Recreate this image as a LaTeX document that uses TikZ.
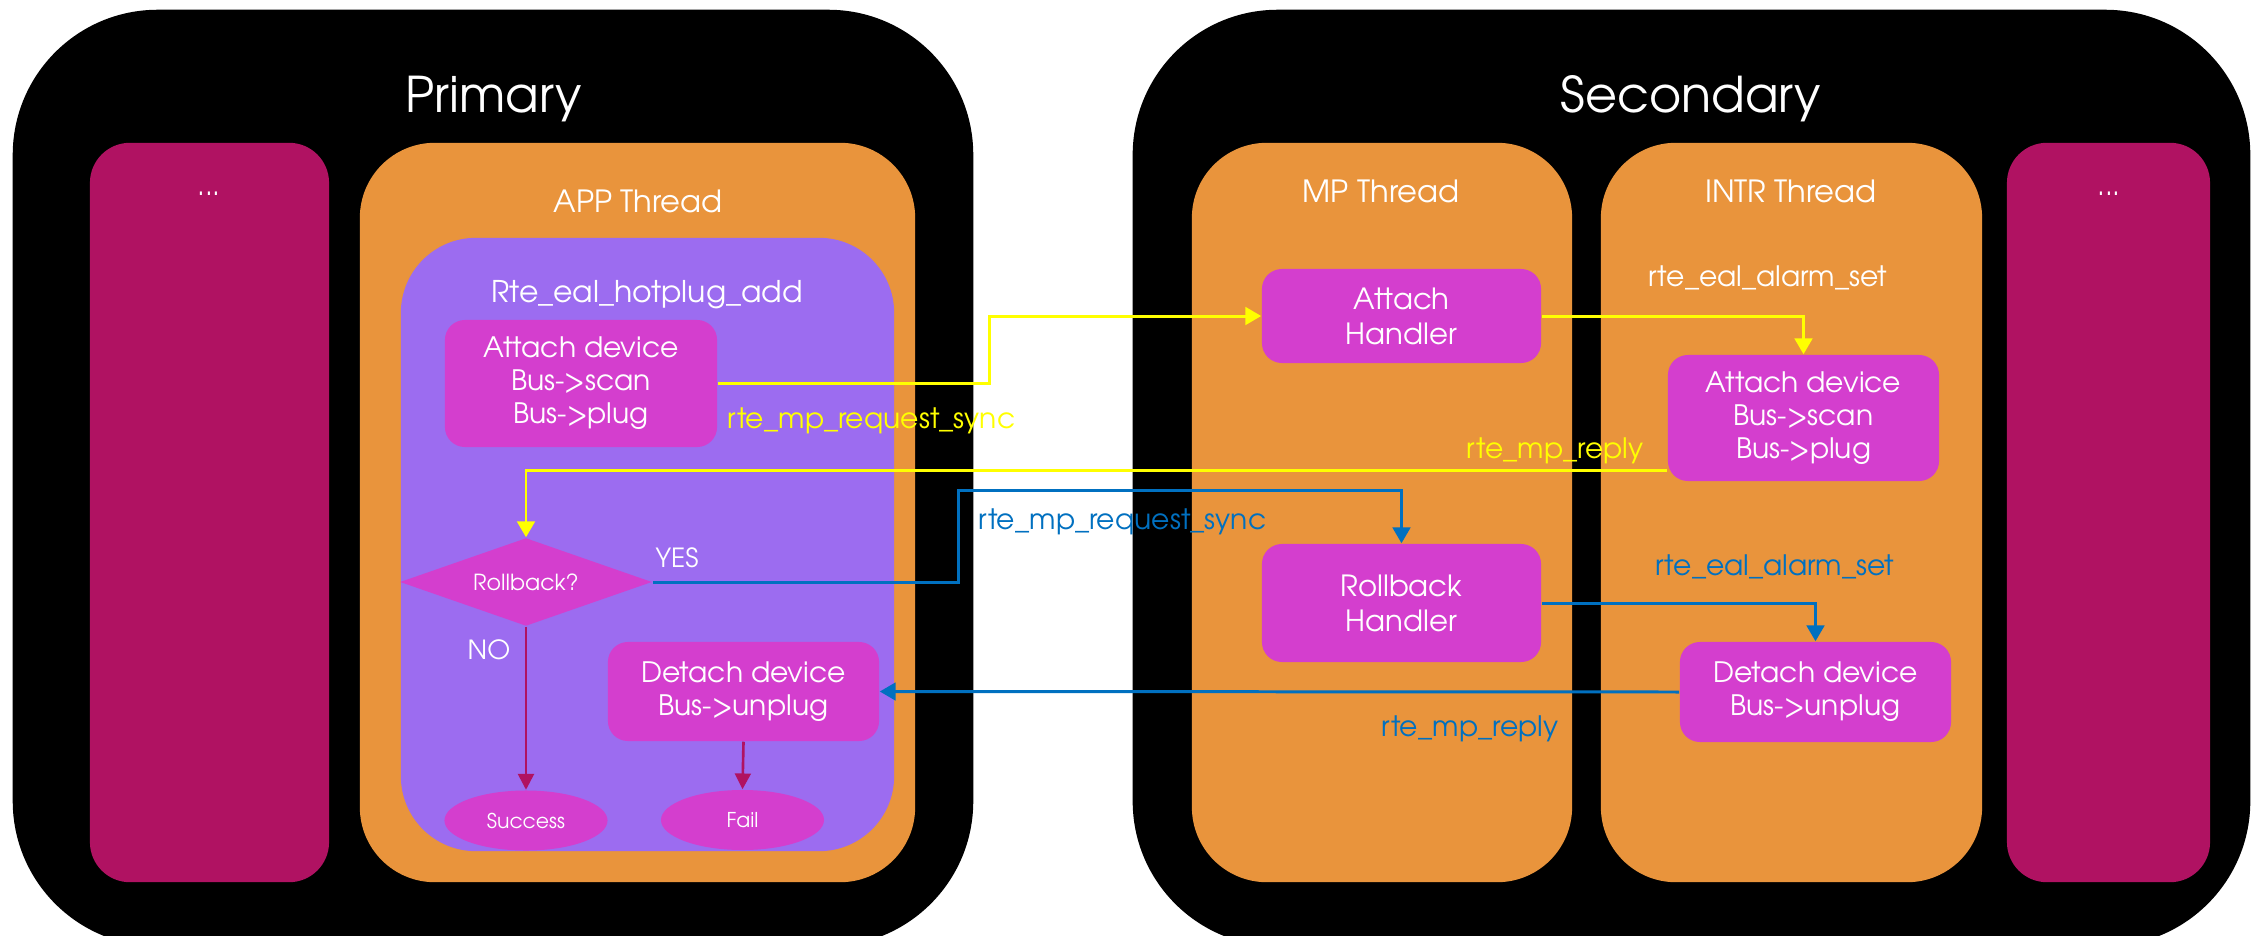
\documentclass[tikz,border=0pt]{standalone}
\usepackage{fontspec}
\setmainfont{texgyreadventor-regular.otf}
\usetikzlibrary{shapes.geometric,arrows.meta}
\definecolor{dmag}{HTML}{B01262}
\definecolor{orng}{HTML}{E9943C}
\definecolor{purp}{HTML}{9C6CF0}
\definecolor{bmag}{HTML}{D43ECE}
\definecolor{yel}{HTML}{FFFF00}
\definecolor{blu}{HTML}{0070C0}
\tikzset{
  outerbox/.style={fill=black, draw=none, rounded corners=1.45cm, inner sep=0},
  colbox/.style={fill=dmag, rounded corners=0.4cm, inner sep=0},
  threadbox/.style={fill=orng, rounded corners=0.75cm, inner sep=0},
  funcbox/.style={fill=purp, rounded corners=0.75cm, inner sep=0},
  stepbox/.style={fill=bmag, rounded corners=0.2cm, inner sep=0, text=white, align=center, font=\fontsize{8}{9.4}\selectfont},
  handlerbox/.style={stepbox, font=\fontsize{8.3}{10}\selectfont},
  bigtitle/.style={text=white, anchor=base, inner sep=0, font=\fontsize{14}{16}\selectfont},
  thtitle/.style={text=white, anchor=base, inner sep=0, font=\fontsize{8.7}{10}\selectfont},
  dots/.style={text=white, anchor=base, inner sep=0, font=\fontsize{8}{10}\selectfont},
  wlab/.style={text=white, inner sep=0, font=\fontsize{8}{10}\selectfont},
  ylab/.style={text=yel, inner sep=0, font=\fontsize{8}{10}\selectfont},
  blab/.style={text=blu, inner sep=0, font=\fontsize{8}{10}\selectfont},
  yarr/.style={draw=yel, line width=0.85pt, -{Triangle[length=4.5pt,width=5pt]}},
  barr/.style={draw=blu, line width=0.85pt, -{Triangle[length=4.5pt,width=5pt]}},
  marr/.style={draw=dmag, line width=0.75pt, -{Triangle[length=4.5pt,width=4.5pt]}},
}
\begin{document}
\begin{tikzpicture}[x=0.01cm,y=-0.01cm]
\useasboundingbox[fill=white] (0,0) rectangle (2259,936);
% outer process boxes
\node[outerbox, minimum width=9.60cm, minimum height=9.36cm] (prim) at (493,478) {};
\node[outerbox, minimum width=11.17cm, minimum height=9.36cm] (sec) at (1691.5,478) {};
\node[bigtitle] (primt) at (494,112) {Primary};
\node[bigtitle] (sect) at (1691,112) {Secondary};
% columns
\node[colbox, minimum width=2.39cm, minimum height=7.39cm] (pdots) at (209.5,512.5) {};
\node[dots] (pdotst) at (209,195) {...};
\node[threadbox, minimum width=5.55cm, minimum height=7.39cm] (app) at (637.5,512.5) {};
\node[thtitle] (appt) at (638,212) {APP Thread};
\node[funcbox, minimum width=4.93cm, minimum height=6.13cm] (func) at (647.5,544.5) {};
\node[thtitle, font=\fontsize{8.5}{10}\selectfont] (funct) at (647,302) {Rte\_eal\_hotplug\_add};
\node[threadbox, minimum width=3.80cm, minimum height=7.39cm] (mpth) at (1382,512.5) {};
\node[thtitle] (mptht) at (1381,202) {MP Thread};
\node[threadbox, minimum width=3.81cm, minimum height=7.39cm] (intr) at (1791.5,512.5) {};
\node[thtitle] (intrt) at (1791,202) {INTR Thread};
\node[colbox, minimum width=2.03cm, minimum height=7.39cm] (sdots) at (2108.5,512.5) {};
\node[dots] (sdotst) at (2109,195) {...};
% primary flow
\node[stepbox, minimum width=2.72cm, minimum height=1.27cm] (pattach) at (581,383.5) {Attach device\\Bus->scan\\Bus->plug};
\node[shape=diamond, fill=bmag, inner sep=0, shape aspect=2.86, minimum width=2.52cm, minimum height=0.88cm, text=white, font=\fontsize{6.3}{7}\selectfont] (rb) at (526,582) {Rollback?};
\node[stepbox, minimum width=2.71cm, minimum height=0.99cm] (pdetach) at (743.5,691.5) {Detach device\\Bus->unplug};
\node[shape=ellipse, fill=bmag, inner sep=0, minimum width=1.63cm, minimum height=0.60cm, text=white, font=\fontsize{5.8}{7}\selectfont] (succ) at (526,820.5) {Success};
\node[shape=ellipse, fill=bmag, inner sep=0, minimum width=1.63cm, minimum height=0.60cm, text=white, font=\fontsize{5.8}{7}\selectfont] (fail) at (742.5,820) {Fail};
\node[wlab, anchor=base, font=\fontsize{7.5}{9}\selectfont] (yes) at (677,567) {YES};
\node[wlab, anchor=base, font=\fontsize{7.5}{9}\selectfont] (no) at (489,659) {NO};
% secondary flow
\node[handlerbox, minimum width=2.79cm, minimum height=0.94cm] (ahandler) at (1401.5,316) {Attach\\Handler};
\node[stepbox, minimum width=2.71cm, minimum height=1.26cm] (iattach) at (1803.5,418) {Attach device\\Bus->scan\\Bus->plug};
\node[handlerbox, minimum width=2.79cm, minimum height=1.18cm] (rhandler) at (1401.5,603) {Rollback\\Handler};
\node[stepbox, minimum width=2.71cm, minimum height=1.00cm] (idetach) at (1815.5,692) {Detach device\\Bus->unplug};
% labels
\node[ylab, anchor=base west] (l1) at (727,428) {rte\_mp\_request\_sync};
\node[wlab, anchor=base] (l2) at (1768,286) {rte\_eal\_alarm\_set};
\node[ylab, anchor=base east] (l3) at (1644,458) {rte\_mp\_reply};
\node[blab, anchor=base west] (l4) at (978,529) {rte\_mp\_request\_sync};
\node[blab, anchor=base] (l5) at (1775,575) {rte\_eal\_alarm\_set};
\node[blab, anchor=base] (l6) at (1470,736) {rte\_mp\_reply};
% connectors
\coordinate (j1) at (989,350);
\coordinate (j2) at (958,520);
\draw[yarr] (pattach.east) -| (j1) |- (ahandler.west);
\draw[yarr] (ahandler.east) -| (iattach.north);
\draw[yarr] ([yshift=0.11cm]iattach.south west) -| (rb.north);
\draw[barr] (rb.east) -| (j2) |- (1401.5,490) -- (rhandler.north);
\draw[barr] (rhandler.east) -| (idetach.north);
\draw[barr] (idetach.west) -- (pdetach.east);
\draw[marr] (rb.south) -- (succ.north);
\draw[marr] (pdetach.south) -- (fail.north);
\end{tikzpicture}
\end{document}
